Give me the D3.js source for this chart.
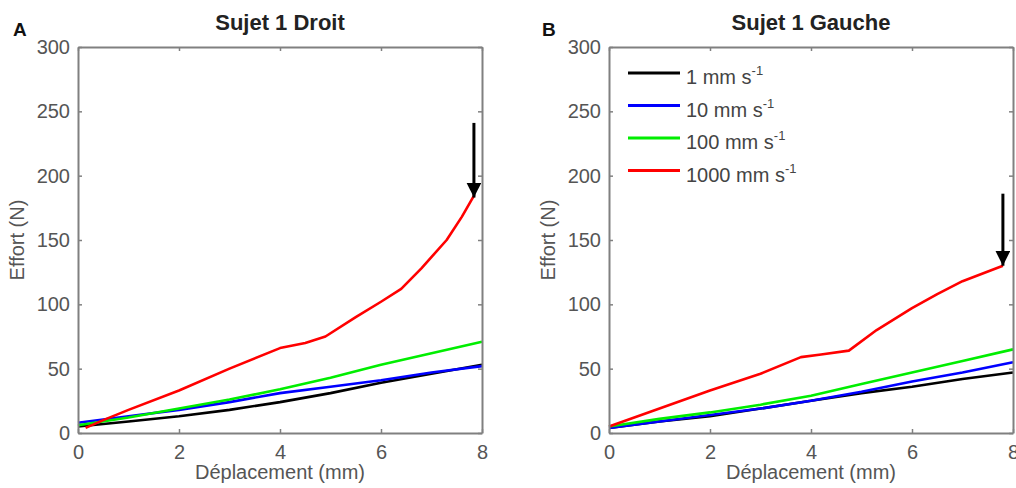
<!DOCTYPE html>
<html>
<head>
<meta charset="utf-8">
<script src="https://cdnjs.cloudflare.com/ajax/libs/d3/7.8.5/d3.min.js"></script>
<style>
body { margin: 0; background: #fff; }
text { font-family: "Liberation Sans", Arial, sans-serif; }
</style>
</head>
<body>
<div id="chart"></div>
<script>
// speeds (mm s-1) and the curve for each
var speeds = ['1', '10', '100', '1000']
var colors = ['#000', '#0000ff', '#00ee00', '#ff0000']

var xTicks = [0, 2, 4, 6, 8]
var yTicks = [0, 50, 100, 150, 200, 250, 300]

// Sujet 1 Droit
var droit1 = [[0,5],[1,9],[2,13],[3,18],[4,24],[5,31],[6,39],[7,46],[8,53]]
var droit10 = [[0,8],[1,13],[2,18],[3,24],[4,31],[5,36],[6,41],[7,47],[8,52]]
var droit100 = [[0,6],[1,12],[2,19],[3,26],[4,34],[5,43],[6,53],[7,62],[8,71]]
var droit1000 = [[0.15,4],[0.5,10],[1,18],[2,33],[3,50],[4,66],[4.5,70],[4.9,75],[5.5,90],[6,102],[6.4,112],[6.8,128],[7.3,150],[7.6,168],[7.85,185]]
var droitArrow = {x: 7.84, from: 241, to: 183}

// Sujet 1 Gauche
var gauche1 = [[0,4],[1,9],[2,13],[3,19],[4,25],[5,31],[6,36],[7,42],[8,47]]
var gauche10 = [[0,4],[1,9],[2,14],[3,19],[4,25],[5,32],[6,40],[7,47],[8,55]]
var gauche100 = [[0,5],[1,11],[2,16],[3,22],[4,29],[5,38],[6,47],[7,56],[8,65]]
var gauche1000 = [[0,5],[1,19],[2,33],[3,46],[3.8,59],[4.2,61],[4.75,64],[5.3,80],[6,97],[6.5,108],[7,118],[7.8,130]]
var gaucheArrow = {x: 7.8, from: 186, to: 130}

var panels = [
  {letter: 'A', title: 'Sujet 1 Droit', left: 78, right: 482, series: [droit1, droit10, droit100, droit1000], arrow: droitArrow, legend: false},
  {letter: 'B', title: 'Sujet 1 Gauche', left: 609, right: 1013, series: [gauche1, gauche10, gauche100, gauche1000], arrow: gaucheArrow, legend: true}
]

var plotTop = 47, plotBottom = 433
var axisColor = '#808080', textColor = '#555'

var svg = d3.select('#chart').append('svg')
  .attr('width', 1016).attr('height', 488)

svg.append('defs').append('marker')
  .attr('id', 'head')
  .attr('viewBox', '0 0 10 10')
  .attr('refX', 10).attr('refY', 5)
  .attr('markerWidth', 5).attr('markerHeight', 5)
  .attr('markerUnits', 'strokeWidth')
  .attr('orient', 'auto')
  .append('path').attr('d', 'M0,0L10,5L0,10Z').attr('fill', '#000')

panels.forEach(function(p){
  var x = d3.scaleLinear().domain([0, 8]).range([p.left, p.right])
  var y = d3.scaleLinear().domain([0, 300]).range([plotBottom, plotTop])
  var g = svg.append('g')

  var line = d3.line().x(function(d){ return x(d[0]) }).y(function(d){ return y(d[1]) })

  p.series.forEach(function(s, i){
    g.append('path')
      .attr('d', line(s))
      .attr('fill', 'none')
      .attr('stroke', colors[i])
      .attr('stroke-width', 2.6)
      .attr('stroke-linejoin', 'round')
  })

  // axes, ticks point inward like matlab
  function style(a){
    a.select('.domain').attr('stroke', axisColor).attr('stroke-width', 2)
    a.selectAll('.tick line').attr('stroke', axisColor).attr('stroke-width', 1.5)
    a.selectAll('text').attr('fill', textColor).style('font-size', '20px')
      .style('font-family', '"Liberation Sans", Arial, sans-serif')
  }
  g.append('g').attr('transform', 'translate(0,' + plotBottom + ')')
    .call(d3.axisBottom(x).tickValues(xTicks).tickSize(-4).tickSizeOuter(0).tickPadding(12))
    .call(style)
  g.append('g').attr('transform', 'translate(0,' + plotTop + ')')
    .call(d3.axisTop(x).tickValues(xTicks).tickSize(-4).tickSizeOuter(0).tickFormat(''))
    .call(style)
  g.append('g').attr('transform', 'translate(' + p.left + ',0)')
    .call(d3.axisLeft(y).tickValues(yTicks).tickSize(-4).tickSizeOuter(0).tickPadding(8))
    .call(style)
  g.append('g').attr('transform', 'translate(' + p.right + ',0)')
    .call(d3.axisRight(y).tickValues(yTicks).tickSize(-4).tickSizeOuter(0).tickFormat(''))
    .call(style)

  var mid = (p.left + p.right) / 2
  g.append('text').text(p.title)
    .attr('x', mid).attr('y', 30)
    .attr('text-anchor', 'middle')
    .style('font-size', '22px').style('font-weight', 'bold').attr('fill', '#222')
  g.append('text').text(p.letter)
    .attr('x', p.left - 65 + (p.letter == 'B' ? -2 : 0)).attr('y', 36)
    .style('font-size', '19px').style('font-weight', 'bold').attr('fill', '#111')
  g.append('text').text('Déplacement (mm)')
    .attr('x', mid).attr('y', 479)
    .attr('text-anchor', 'middle')
    .style('font-size', '20px').attr('fill', textColor)
  g.append('text').text('Effort (N)')
    .attr('transform', 'translate(' + (p.left - 54) + ',' + ((plotTop + plotBottom) / 2) + ') rotate(-90)')
    .attr('text-anchor', 'middle')
    .style('font-size', '20px').attr('fill', textColor)

  // arrow pointing at the last point of the 1000 mm/s curve
  g.append('line')
    .attr('x1', x(p.arrow.x)).attr('x2', x(p.arrow.x))
    .attr('y1', y(p.arrow.from)).attr('y2', y(p.arrow.to))
    .attr('stroke', '#000').attr('stroke-width', 3)
    .attr('marker-end', 'url(#head)')

  if (p.legend){
    var leg = g.append('g').attr('transform', 'translate(' + (p.left + 19) + ',73)')
    speeds.forEach(function(s, i){
      var row = leg.append('g').attr('transform', 'translate(0,' + (i * 32.5) + ')')
      row.append('line').attr('x1', 0).attr('x2', 52)
        .attr('stroke', colors[i]).attr('stroke-width', 3)
      var t = row.append('text').attr('x', 58).attr('y', 11)
        .style('font-size', '20px').attr('fill', '#444')
      t.append('tspan').text(s + ' mm s')
      t.append('tspan').text('-1').attr('dy', -9).style('font-size', '13px')
    })
  }
})
</script>
</body>
</html>
